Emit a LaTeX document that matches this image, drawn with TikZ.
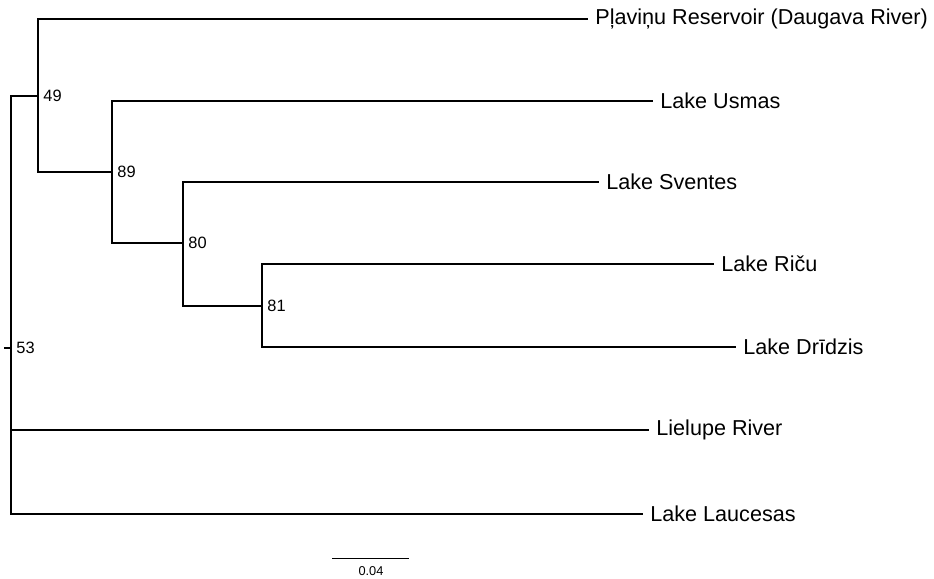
\documentclass[tikz,border=0pt]{standalone}
\usepackage{fontspec}
\setmainfont{Liberation Sans}
\begin{document}
\begin{tikzpicture}[x=0.5pt,y=-0.5pt,
  branch/.style={line width=1pt,line cap=rect},
  leaf/.style={anchor=west,inner xsep=4pt,inner ysep=0pt,font=\fontsize{10.8}{12}\selectfont},
  boot/.style={anchor=west,inner xsep=2.5pt,font=\fontsize{8.2}{9}\selectfont},
  scaletxt/.style={font=\fontsize{6.4}{7}\selectfont,inner sep=0pt}]
\useasboundingbox (0,0) rectangle (934,579);
% internal nodes
\coordinate (root) at (11,348);
\coordinate (rootstub) at (5,348);
\coordinate (n49) at (38,96);
\coordinate (n89) at (112,172);
\coordinate (n80) at (183,243);
\coordinate (n81) at (262,306);
% leaves
\node[leaf] (plav) at (587,19) {Pļaviņu Reservoir (Daugava River)};
\node[leaf] (usm) at (652,101) {Lake Usmas};
\node[leaf] (sve) at (598,182) {Lake Sventes};
\node[leaf] (ric) at (713,264) {Lake Riču};
\node[leaf] (dri) at (735,347) {Lake Drīdzis};
\node[leaf] (lie) at (648,430) {Lielupe River};
\node[leaf] (lau) at (642,514) {Lake Laucesas};
% branches
\draw[branch] (root) -- (rootstub);
\draw[branch] (root) |- (n49);
\draw[branch] (root) |- (lie.west);
\draw[branch] (root) |- (lau.west);
\draw[branch] (n49) |- (plav.west);
\draw[branch] (n49) |- (n89);
\draw[branch] (n89) |- (usm.west);
\draw[branch] (n89) |- (n80);
\draw[branch] (n80) |- (sve.west);
\draw[branch] (n80) |- (n81);
\draw[branch] (n81) |- (ric.west);
\draw[branch] (n81) |- (dri.west);
% bootstrap values
\node[boot] (b53) at (root) {53};
\node[boot] (b49) at (n49) {49};
\node[boot] (b89) at (n89) {89};
\node[boot] (b80) at (n80) {80};
\node[boot] (b81) at (n81) {81};
% scale bar
\coordinate (sbl) at (332,558);
\coordinate (sbr) at (409,558);
\draw[line width=0.5pt] (sbl) -- (sbr);
\node[scaletxt] (sblab) at (371,571) {0.04};
\end{tikzpicture}
\end{document}
